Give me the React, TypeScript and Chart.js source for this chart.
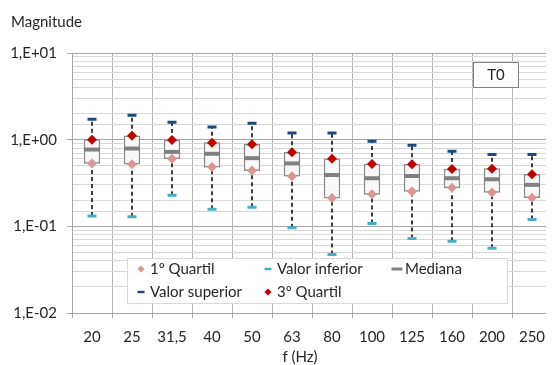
import React, { useEffect, useRef } from 'react';
import { Chart, registerables } from 'chart.js';

Chart.register(...registerables);

const labels = ['20', '25', '31,5', '40', '50', '63', '80', '100', '125', '160', '200', '250'];
const lowerValues = [0.132, 0.129, 0.228, 0.157, 0.166, 0.0964, 0.0474, 0.108, 0.0722, 0.0673, 0.056, 0.12];
const q1Values = [0.532, 0.522, 0.602, 0.483, 0.44, 0.378, 0.212, 0.234, 0.253, 0.278, 0.246, 0.214];
const medianValues = [0.769, 0.79, 0.723, 0.687, 0.612, 0.532, 0.391, 0.359, 0.381, 0.359, 0.349, 0.301];
const q3Values = [1.0, 1.11, 0.99, 0.924, 0.884, 0.716, 0.602, 0.523, 0.519, 0.458, 0.463, 0.398];
const upperValues = [1.72, 1.91, 1.59, 1.4, 1.55, 1.19, 1.19, 0.957, 0.861, 0.736, 0.674, 0.674];

const yTitle = 'Magnitude';
const xTitle = 'f (Hz)';
const panelLabel = 'T0';
const yMin = 0.01;
const yMax = 10;

const FONT = 'Lato';
const FONT_SIZE = 15;
const TEXT = '#262626';

// legend slot positions (canvas px), in legend dataset order
const LEGEND_SLOTS = [
  { x: 133, y: 261 },
  { x: 260, y: 261 },
  { x: 389, y: 261 },
  { x: 133, y: 284 },
  { x: 260, y: 284 },
];

function fmtExp(v: number): string {
  const e = Math.round(Math.log10(v));
  const s = e < 0 ? '-' : '+';
  return '1,E' + s + String(Math.abs(e)).padStart(2, '0');
}

function isPow10(v: number): boolean {
  const l = Math.log10(v);
  return Math.abs(l - Math.round(l)) < 1e-9;
}

const extrasPlugin = {
  id: 'extras',
  afterDraw(chart: any) {
    const ctx = chart.ctx;
    ctx.save();
    ctx.font = `${FONT_SIZE}px ${FONT}`;
    ctx.textBaseline = 'middle';

    // x axis title
    ctx.fillStyle = TEXT;
    ctx.textAlign = 'center';
    ctx.fillText(xTitle, 292, 349);

    // panel label box
    ctx.fillStyle = '#ffffff';
    ctx.fillRect(465.5, 54.5, 45, 25);
    ctx.strokeStyle = '#808080';
    ctx.lineWidth = 1;
    ctx.strokeRect(465.5, 54.5, 45, 25);
    ctx.fillStyle = TEXT;
    ctx.fillText(panelLabel, 488, 67.5);

    // legend
    const bx = 119.5, by = 250.5, bw = 380, bh = 45;
    ctx.fillStyle = '#ffffff';
    ctx.fillRect(bx, by, bw, bh);
    ctx.strokeStyle = '#d9d9d9';
    ctx.strokeRect(bx, by, bw, bh);

    const items = chart.data.datasets.filter((d: any) => d.inLegend);
    items.forEach((d: any, i: number) => {
      const slot = LEGEND_SLOTS[i];
      if (!slot) return;
      const mx = slot.x, my = slot.y;
      if (d.pointStyle === 'rectRot') {
        const r = 3.6;
        ctx.fillStyle = d.pointBackgroundColor;
        ctx.beginPath();
        ctx.moveTo(mx, my - r);
        ctx.lineTo(mx + r, my);
        ctx.lineTo(mx, my + r);
        ctx.lineTo(mx - r, my);
        ctx.closePath();
        ctx.fill();
      } else {
        const w = d.legendDash || 7;
        ctx.strokeStyle = d.pointBorderColor;
        ctx.lineWidth = d.legendThick || 2.5;
        ctx.beginPath();
        ctx.moveTo(mx - w / 2, my);
        ctx.lineTo(mx + w / 2, my);
        ctx.stroke();
      }
      ctx.fillStyle = TEXT;
      ctx.textAlign = 'left';
      ctx.fillText(d.label, mx + (d.legendDash && d.legendDash > 8 ? 8 : 9), my + 0.5);
    });
    ctx.restore();
  },
};

export default function App() {
  const ref = useRef<HTMLCanvasElement | null>(null);

  useEffect(() => {
    if (!ref.current) return;
    Chart.defaults.font.family = FONT;
    Chart.defaults.font.size = FONT_SIZE;
    Chart.defaults.color = TEXT;

    const whiskerData: any[] = [];
    labels.forEach((lab, i) => {
      whiskerData.push({ x: lab, y: lowerValues[i] });
      whiskerData.push({ x: lab, y: q1Values[i] });
      whiskerData.push({ x: lab, y: null });
      whiskerData.push({ x: lab, y: q3Values[i] });
      whiskerData.push({ x: lab, y: upperValues[i] });
      whiskerData.push({ x: lab, y: null });
    });

    const chart = new Chart(ref.current, {
      type: 'bar',
      data: {
        labels,
        datasets: [
          {
            type: 'bar',
            label: 'box',
            data: q1Values.map((v, i) => [v, q3Values[i]]),
            backgroundColor: '#f8f8f8',
            borderColor: '#8c8c8c',
            borderWidth: 1.5,
            borderSkipped: false,
            barThickness: 16,
            order: 10,
          } as any,
          {
            type: 'line',
            label: 'whiskers',
            data: whiskerData,
            borderColor: '#000000',
            borderWidth: 1.5,
            borderDash: [4, 3],
            pointRadius: 0,
            spanGaps: false,
            order: 9,
          } as any,
          {
            type: 'line',
            label: '1º Quartil',
            inLegend: true,
            data: q1Values,
            showLine: false,
            pointStyle: 'rectRot',
            pointRadius: 5,
            pointBackgroundColor: '#D99694',
            pointBorderColor: '#D99694',
            pointBorderWidth: 0,
            order: 2,
          } as any,
          {
            type: 'line',
            label: 'Valor inferior',
            inLegend: true,
            legendDash: 7,
            legendThick: 2.5,
            data: lowerValues,
            showLine: false,
            pointStyle: 'line',
            pointRadius: 4.5,
            pointBorderWidth: 3,
            pointBorderColor: '#4BACC6',
            pointBackgroundColor: '#4BACC6',
            order: 3,
          } as any,
          {
            type: 'line',
            label: 'Mediana',
            inLegend: true,
            legendDash: 11,
            legendThick: 3,
            data: medianValues,
            showLine: false,
            pointStyle: 'line',
            pointRadius: 8,
            pointBorderWidth: 4,
            pointBorderColor: '#808080',
            pointBackgroundColor: '#808080',
            order: 4,
          } as any,
          {
            type: 'line',
            label: 'Valor superior',
            inLegend: true,
            legendDash: 7,
            legendThick: 2.5,
            data: upperValues,
            showLine: false,
            pointStyle: 'line',
            pointRadius: 4.5,
            pointBorderWidth: 3,
            pointBorderColor: '#1F497D',
            pointBackgroundColor: '#1F497D',
            order: 3,
          } as any,
          {
            type: 'line',
            label: '3º Quartil',
            inLegend: true,
            data: q3Values,
            showLine: false,
            pointStyle: 'rectRot',
            pointRadius: 5,
            pointBackgroundColor: '#C00000',
            pointBorderColor: '#C00000',
            pointBorderWidth: 0,
            order: 1,
          } as any,
        ],
      },
      options: {
        responsive: false,
        animation: false,
        devicePixelRatio: 1,
        layout: { padding: { left: 3, right: 5, top: 0, bottom: 0 } },
        plugins: {
          legend: { display: false },
          tooltip: { enabled: false },
          title: {
            display: true,
            text: yTitle,
            align: 'start',
            color: TEXT,
            font: { family: FONT, size: FONT_SIZE, weight: 'normal' },
            padding: { top: 5, bottom: 22 },
          },
        },
        scales: {
          x: {
            type: 'category',
            offset: true,
            grid: {
              offset: true,
              color: '#b5b5b5',
              tickColor: '#a6a6a6',
              tickLength: 5,
              lineWidth: 1,
            },
            border: { color: '#a6a6a6' },
            ticks: { padding: 10, color: TEXT, autoSkip: false, maxRotation: 0 },
            afterFit(scale: any) {
              scale.height = 52;
            },
          },
          y: {
            type: 'logarithmic',
            min: yMin,
            max: yMax,
            grid: {
              color: (c: any) => (c.tick && isPow10(c.tick.value) ? '#a6a6a6' : '#d9d9d9'),
              tickColor: (c: any) => (c.tick && isPow10(c.tick.value) ? '#a6a6a6' : 'rgba(0,0,0,0)'),
              tickLength: 5,
            },
            border: { color: '#a6a6a6' },
            ticks: {
              autoSkip: false,
              padding: 10,
              color: TEXT,
              callback: (v: any) => (isPow10(Number(v)) ? fmtExp(Number(v)) : ''),
            },
            afterFit(scale: any) {
              scale.width = 61;
            },
          },
        },
      },
      plugins: [extrasPlugin],
    });
    return () => chart.destroy();
  }, []);

  return (
    <div style={{ width: 546, height: 357, overflow: 'hidden' }}>
      <canvas ref={ref} width={556} height={357} style={{ display: 'block', width: 556, height: 357 }} />
    </div>
  );
}
